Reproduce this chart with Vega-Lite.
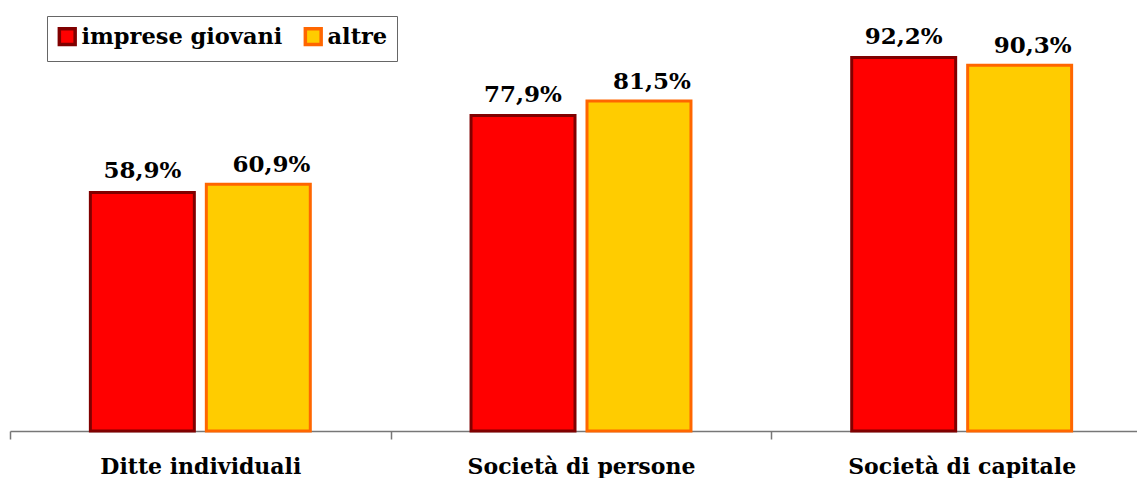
{
  "$schema": "https://vega.github.io/schema/vega-lite/v6.json",
  "width": 1142,
  "height": 405,
  "autosize": {"type": "none"},
  "padding": {"left": 10, "top": 26, "right": 0, "bottom": 47},
  "config": {
    "view": {"stroke": null},
    "font": "DejaVu Serif",
    "legend": {"labelFontWeight": "bold"},
    "locale": {"number": {"decimal": ",", "thousands": ".", "grouping": [3], "currency": ["", " €"]}}
  },
  "data": {
    "values": [
      {"categoria": "Ditte individuali", "gruppo": "imprese giovani", "valore": 0.589},
      {"categoria": "Ditte individuali", "gruppo": "altre", "valore": 0.609},
      {"categoria": "Società di persone", "gruppo": "imprese giovani", "valore": 0.779},
      {"categoria": "Società di persone", "gruppo": "altre", "valore": 0.815},
      {"categoria": "Società di capitale", "gruppo": "imprese giovani", "valore": 0.922},
      {"categoria": "Società di capitale", "gruppo": "altre", "valore": 0.903}
    ]
  },
  "encoding": {
    "x": {
      "field": "categoria", "type": "nominal", "sort": null,
      "scale": {"paddingInner": 0, "paddingOuter": 0},
      "axis": {
        "title": null, "labelAngle": 0, "labelFont": "DejaVu Serif", "labelFontWeight": "bold",
        "labelFontSize": 22, "labelColor": "#000", "labelPadding": 17, "labelLimit": 0,
        "domainColor": "#777", "domainWidth": 1.5, "tickColor": "#777", "tickWidth": 1.5, "tickSize": 8,
        "tickBand": "extent"
      }
    },
    "xOffset": {"field": "gruppo", "type": "nominal", "sort": ["imprese giovani", "altre"], "scale": {"paddingInner": 0.1034, "paddingOuter": 0.693}},
    "y": {"field": "valore", "type": "quantitative", "scale": {"domain": [0, 1], "nice": false}, "axis": null}
  },
  "layer": [
    {
      "mark": {"type": "bar", "strokeWidth": 3, "cornerRadius": 0},
      "encoding": {
        "fill": {
          "field": "gruppo", "type": "nominal", "sort": ["imprese giovani", "altre"],
          "scale": {"domain": ["imprese giovani", "altre"], "range": ["#FF0000", "#FFCC00"]},
          "legend": {
            "title": null, "orient": "none", "legendX": 37, "legendY": -10, "direction": "horizontal",
            "labelFont": "DejaVu Serif", "labelFontWeight": "bold", "labelFontSize": 22.5, "labelColor": "#000", "labelLimit": 0,
            "symbolType": "square", "symbolSize": 250, "symbolStrokeWidth": 3.5, "symbolOpacity": 1,
            "strokeColor": "#666", "padding": 9, "columnPadding": 15, "labelOffset": 3,
            "rowPadding": 0
          }
        },
        "stroke": {
          "field": "gruppo", "type": "nominal", "sort": ["imprese giovani", "altre"],
          "scale": {"domain": ["imprese giovani", "altre"], "range": ["#800000", "#FF6600"]},
          "legend": null
        }
      }
    },
    {
      "transform": [{"filter": "datum.gruppo === 'imprese giovani'"}],
      "mark": {"type": "text", "font": "DejaVu Serif", "fontWeight": "bold", "fontSize": 23, "baseline": "alphabetic", "dy": -14, "color": "#000"},
      "encoding": {"text": {"field": "valore", "type": "quantitative", "format": ".1%"}}
    },
    {
      "transform": [{"filter": "datum.gruppo === 'altre'"}],
      "mark": {"type": "text", "font": "DejaVu Serif", "fontWeight": "bold", "fontSize": 23, "baseline": "alphabetic", "dy": -12, "dx": 13, "color": "#000"},
      "encoding": {"text": {"field": "valore", "type": "quantitative", "format": ".1%"}}
    }
  ]
}
